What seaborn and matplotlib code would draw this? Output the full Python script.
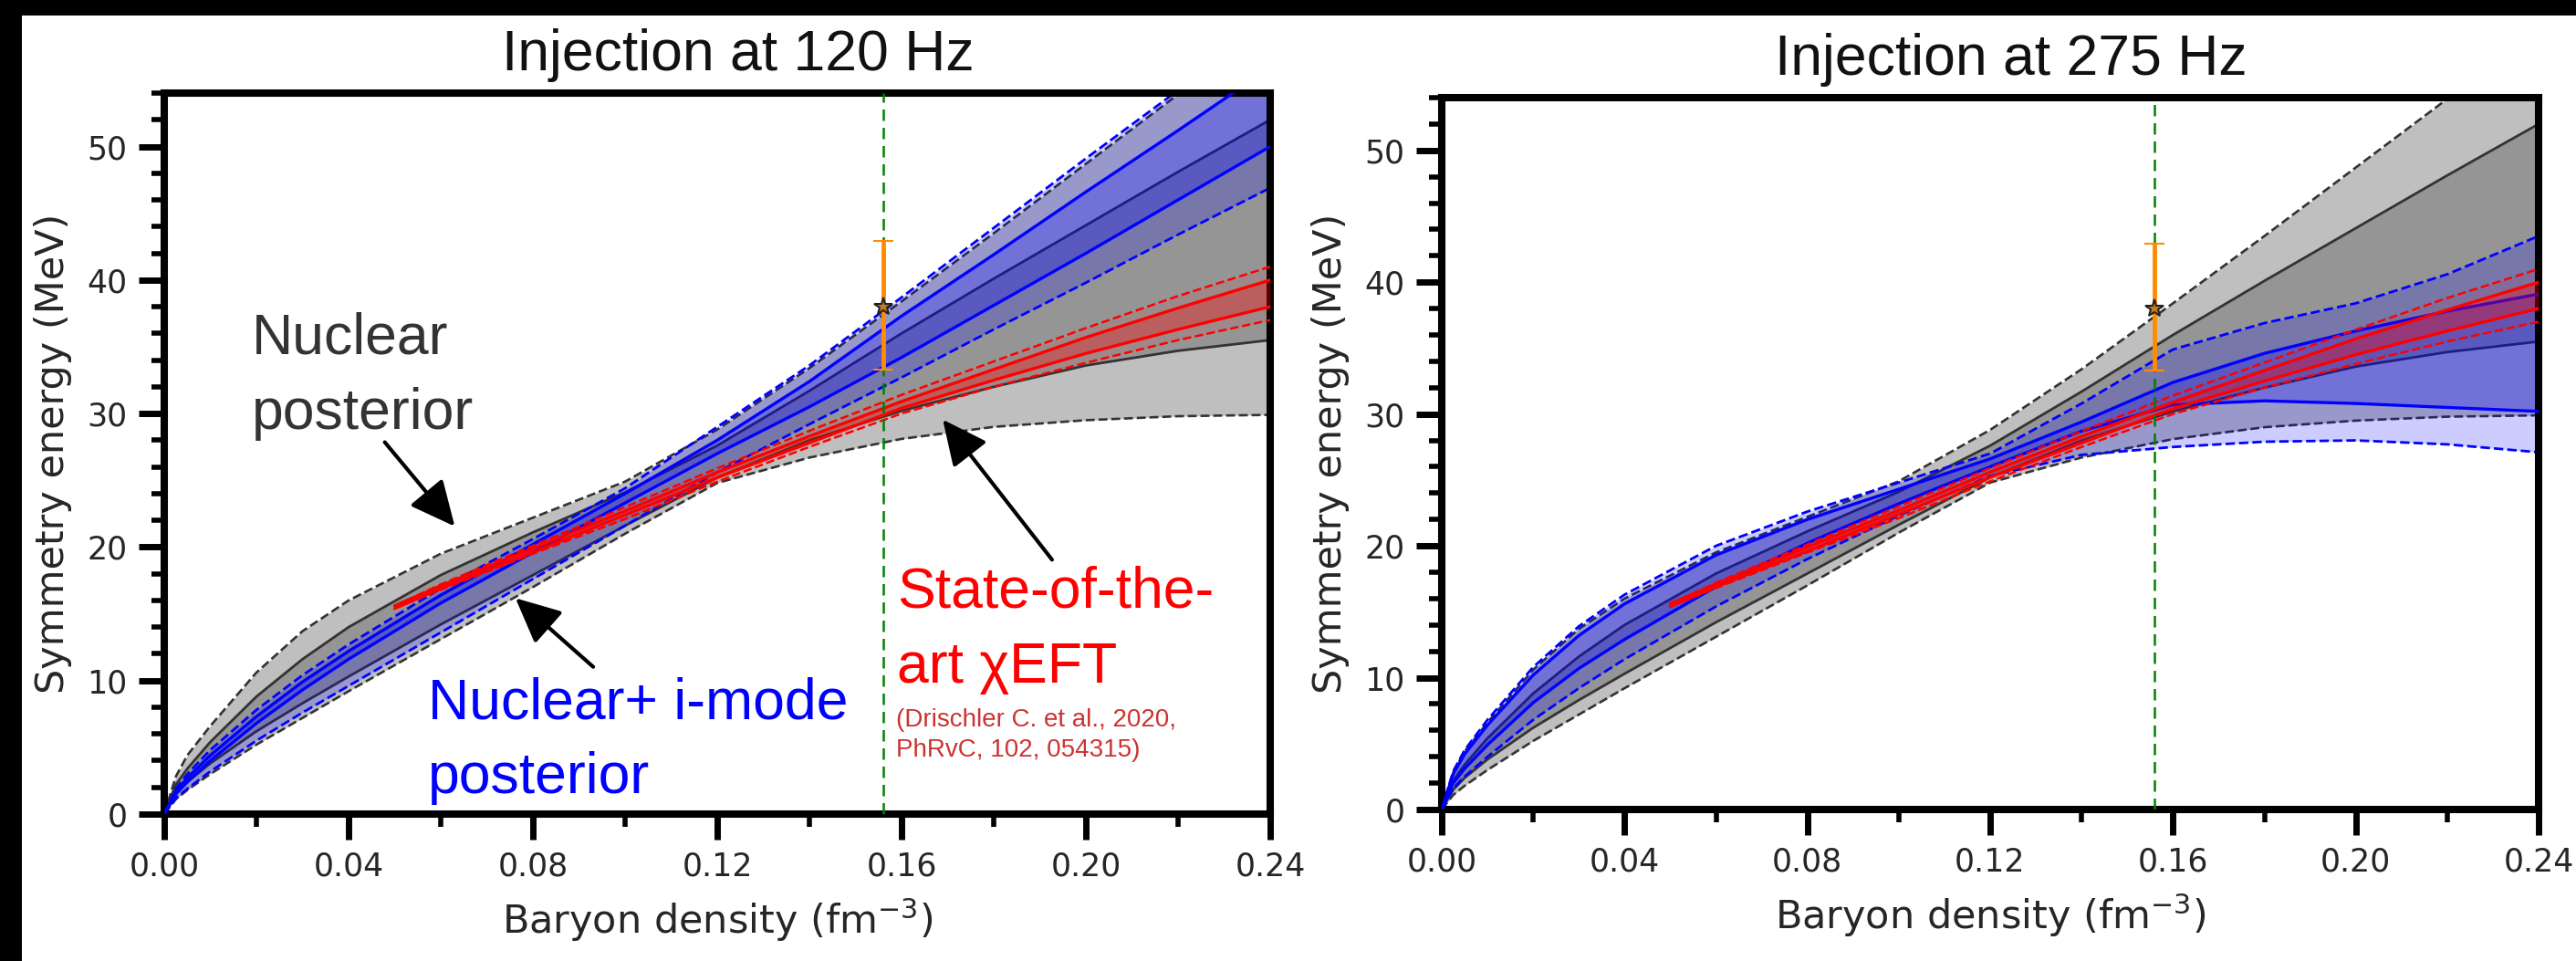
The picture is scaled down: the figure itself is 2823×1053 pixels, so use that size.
import numpy as np
import pandas as pd
import matplotlib
matplotlib.use("Agg")
import matplotlib.pyplot as plt
import seaborn as sns
from matplotlib.patches import Rectangle
from matplotlib.ticker import MultipleLocator, FormatStrFormatter
from matplotlib import font_manager

# ---------------- data ----------------
density = [0, 0.0025, 0.005, 0.01, 0.02, 0.03, 0.04, 0.06, 0.08, 0.10,
           0.12, 0.14, 0.16, 0.18, 0.20, 0.22, 0.24]

# Nuclear posterior (same in both panels)
nuc_outer_hi = [0, 2.8, 4.4, 6.6, 10.6, 13.7, 16.0, 19.5, 22.2, 24.9, 28.8, 33.4, 38.4, 43.5, 48.7, 53.9, 59.0]
nuc_inner_hi = [0, 2.2, 3.4, 5.4, 8.8, 11.6, 14.0, 17.9, 21.1, 24.1, 27.6, 31.7, 36.0, 40.1, 44.1, 48.1, 52.0]
nuc_inner_lo = [0, 1.5, 2.4, 3.8, 6.2, 8.3, 10.3, 14.2, 17.9, 21.6, 25.2, 28.0, 30.2, 32.0, 33.6, 34.7, 35.5]
nuc_outer_lo = [0, 1.1, 1.8, 3.0, 5.2, 7.2, 9.2, 13.1, 17.0, 21.0, 24.8, 26.7, 28.1, 29.0, 29.5, 29.8, 29.9]

# Nuclear + i-mode posterior, injection at 120 Hz
imode120_outer_hi = [0, 1.9, 3.0, 4.8, 7.8, 10.4, 12.7, 16.9, 20.6, 24.4, 29.0, 33.6, 38.7, 43.9, 49.1, 54.2, 59.3]
imode120_inner_hi = [0, 1.7, 2.7, 4.4, 7.3, 9.9, 12.2, 16.4, 20.2, 24.0, 28.0, 32.4, 37.3, 41.9, 46.6, 51.2, 55.9]
imode120_inner_lo = [0, 1.5, 2.4, 4.0, 6.8, 9.3, 11.6, 15.8, 19.6, 23.3, 27.0, 30.5, 34.2, 38.1, 42.0, 46.0, 50.0]
imode120_outer_lo = [0, 1.2, 1.9, 3.2, 5.5, 7.6, 9.6, 13.6, 17.6, 21.6, 25.6, 29.2, 32.7, 36.3, 39.8, 43.4, 46.9]

# Nuclear + i-mode posterior, injection at 275 Hz
imode275_outer_hi = [0, 2.9, 4.5, 6.8, 10.8, 13.9, 16.3, 20.0, 22.6, 24.8, 27.0, 30.8, 34.9, 36.9, 38.4, 40.6, 43.5]
imode275_inner_hi = [0, 2.7, 4.2, 6.4, 10.2, 13.2, 15.6, 19.3, 22.0, 24.3, 26.6, 29.4, 32.4, 34.6, 36.3, 37.8, 39.1]
imode275_inner_lo = [0, 2.0, 3.1, 4.9, 8.1, 10.7, 12.9, 16.9, 20.2, 23.2, 26.0, 28.7, 30.7, 31.0, 30.8, 30.5, 30.2]
imode275_outer_lo = [0, 1.6, 2.5, 4.0, 6.8, 9.2, 11.4, 15.4, 19.0, 22.3, 25.3, 26.9, 27.5, 27.9, 28.0, 27.7, 27.1]

# chiral EFT band (Drischler et al. 2020)
eft_density = [0.05, 0.06, 0.08, 0.10, 0.12, 0.14, 0.16, 0.18, 0.20, 0.22, 0.24]
eft_inner_hi = [15.6, 17.1, 19.9, 22.7, 25.6, 28.3, 30.9, 33.3, 35.7, 37.9, 40.0]
eft_inner_lo = [15.4, 16.9, 19.6, 22.4, 25.2, 27.8, 30.4, 32.5, 34.5, 36.3, 38.0]
eft_outer_hi = [15.6, 17.2, 20.1, 23.0, 25.9, 28.7, 31.4, 33.9, 36.4, 38.8, 41.0]
eft_outer_lo = [15.4, 16.8, 19.5, 22.1, 24.9, 27.5, 30.0, 32.0, 33.8, 35.5, 37.0]

# saturation density and injected value
n_sat = 0.156
inj_value = 38.0
inj_err_lo = 4.7
inj_err_hi = 4.9

panel_titles = ["Injection at 120 Hz", "Injection at 275 Hz"]
x_ticks = [0.00, 0.04, 0.08, 0.12, 0.16, 0.20, 0.24]
y_ticks = [0, 10, 20, 30, 40, 50]

# ---------------- style ----------------
sns.set_theme(style="ticks")
avail = {f.name for f in font_manager.fontManager.ttflist}
ANN = "Liberation Sans" if "Liberation Sans" in avail else "DejaVu Sans"
plt.rcParams["font.family"] = ["DejaVu Sans"]
TXT = "#262626"

W, H = 2823, 1053
fig = plt.figure(figsize=(W / 100, H / 100), dpi=100)
fig.patch.set_facecolor("white")

ax1 = fig.add_axes([180 / W, 1 - 892 / H, 1212 / W, 790 / H])
ax2 = fig.add_axes([1580 / W, 1 - 887 / H, 1202 / W, 780 / H])


def band_lines(ax, x, series, color, lw, z):
    for y, ls in series:
        sns.lineplot(x=x, y=y, ax=ax, color=color, lw=lw, linestyle=ls,
                     sort=False, estimator=None, zorder=z)


def draw_panel(ax, b_ohi, b_ihi, b_ilo, b_olo, title):
    # nuclear posterior (gray)
    ax.fill_between(density, nuc_outer_lo, nuc_outer_hi, color="gray", alpha=0.5, lw=0, zorder=1)
    ax.fill_between(density, nuc_inner_lo, nuc_inner_hi, color="black", alpha=0.22, lw=0, zorder=1)
    band_lines(ax, density, [(nuc_outer_hi, "--"), (nuc_outer_lo, "--")], "#333333", 1.9, 1.5)
    band_lines(ax, density, [(nuc_inner_hi, "-"), (nuc_inner_lo, "-")], "#333333", 2.0, 1.5)
    # nuclear + i-mode (blue)
    ax.fill_between(density, b_olo, b_ohi, color="blue", alpha=0.2, lw=0, zorder=2)
    ax.fill_between(density, b_ilo, b_ihi, color="blue", alpha=0.25, lw=0, zorder=2)
    band_lines(ax, density, [(b_ohi, "--"), (b_olo, "--")], "blue", 2.0, 2.5)
    band_lines(ax, density, [(b_ihi, "-"), (b_ilo, "-")], "blue", 2.4, 2.6)
    # chiral EFT (red)
    ax.fill_between(eft_density, eft_outer_lo, eft_outer_hi, color="red", alpha=0.08, lw=0, zorder=3)
    ax.fill_between(eft_density, eft_inner_lo, eft_inner_hi, color="red", alpha=0.3, lw=0, zorder=3)
    band_lines(ax, eft_density, [(eft_outer_hi, "--"), (eft_outer_lo, "--")], "red", 1.8, 3.5)
    band_lines(ax, eft_density, [(eft_inner_hi, "-"), (eft_inner_lo, "-")], "red", 2.4, 3.6)
    # saturation density
    ax.axvline(n_sat, color="green", lw=1.8, ls=(0, (5, 3)), zorder=4)
    # injected value
    ax.errorbar([n_sat], [inj_value], yerr=[[inj_err_lo], [inj_err_hi]], fmt="none",
                ecolor="darkorange", elinewidth=3.5, capsize=8, capthick=1.5, zorder=6)
    ax.plot([n_sat], [inj_value], marker="*", ms=15, mfc="#c87a1e", mec="#222222",
            mew=1.5, ls="none", zorder=7)

    ax.set_xlim(0, 0.24)
    ax.set_ylim(0, 54)
    ax.set_xticks(x_ticks)
    ax.set_yticks(y_ticks)
    ax.xaxis.set_minor_locator(MultipleLocator(0.02))
    ax.yaxis.set_minor_locator(MultipleLocator(2))
    ax.xaxis.set_major_formatter(FormatStrFormatter("%.2f"))
    ax.tick_params(which="major", direction="out", length=20, width=5, pad=9,
                   labelsize=25, colors="black", labelcolor=TXT,
                   top=False, right=False)
    ax.tick_params(which="minor", direction="out", length=10, width=4,
                   colors="black", top=False, right=False)
    for sp in ax.spines.values():
        sp.set_linewidth(5.8)
        sp.set_color("black")
        sp.set_visible(True)
    ax.set_xlabel("Baryon density (fm$^{-3}$)", fontsize=31, color=TXT, labelpad=12)
    ax.set_ylabel("Symmetry energy (MeV)", fontsize=31, color=TXT, labelpad=12)
    ax.set_title(title, fontsize=45, family=ANN, color="#111111", pad=18, x=0.519)
    ax.set_facecolor("white")


draw_panel(ax1, imode120_outer_hi, imode120_inner_hi, imode120_inner_lo, imode120_outer_lo, panel_titles[0])
draw_panel(ax2, imode275_outer_hi, imode275_inner_hi, imode275_inner_lo, imode275_outer_lo, panel_titles[1])

# annotations (left panel)
ARROW = dict(arrowstyle="-|>,head_length=0.95,head_width=0.45",
             mutation_scale=32, lw=3, color="black")
ax1.text(0.019, 37.6, "Nuclear\nposterior", fontsize=45, family=ANN, color="#333333",
         ha="left", va="top", linespacing=1.5, zorder=8)
ax1.annotate("", xy=(0.0634, 21.4), xytext=(0.0475, 28.0), arrowprops=ARROW, zorder=8)
ax1.text(0.0572, 10.3, "Nuclear+ i-mode\nposterior", fontsize=45, family=ANN, color="blue",
         ha="left", va="top", linespacing=1.5, zorder=8)
ax1.annotate("", xy=(0.0758, 16.3), xytext=(0.0935, 10.9), arrowprops=ARROW, zorder=8)
ax1.text(0.159, 18.6, "State-of-the-\nart \u03c7EFT", fontsize=45, family=ANN, color="red",
         ha="left", va="top", linespacing=1.5, zorder=8)
ax1.text(0.1588, 7.9, "(Drischler C. et al., 2020,\nPhRvC, 102, 054315)", fontsize=20,
         family=ANN, color="#cc3333", ha="left", va="top", linespacing=1.35, zorder=8)
ax1.annotate("", xy=(0.1686, 29.7), xytext=(0.193, 18.9), arrowprops=ARROW, zorder=8)

# black frame strips (top and left) as in the reference
fig.add_artist(Rectangle((0, 1 - 17 / H), 1, 17 / H, transform=fig.transFigure,
                         facecolor="black", edgecolor="none", zorder=20))
fig.add_artist(Rectangle((0, 0), 24 / W, 1, transform=fig.transFigure,
                         facecolor="black", edgecolor="none", zorder=20))

fig.savefig("out.png", dpi=100, facecolor="white")
